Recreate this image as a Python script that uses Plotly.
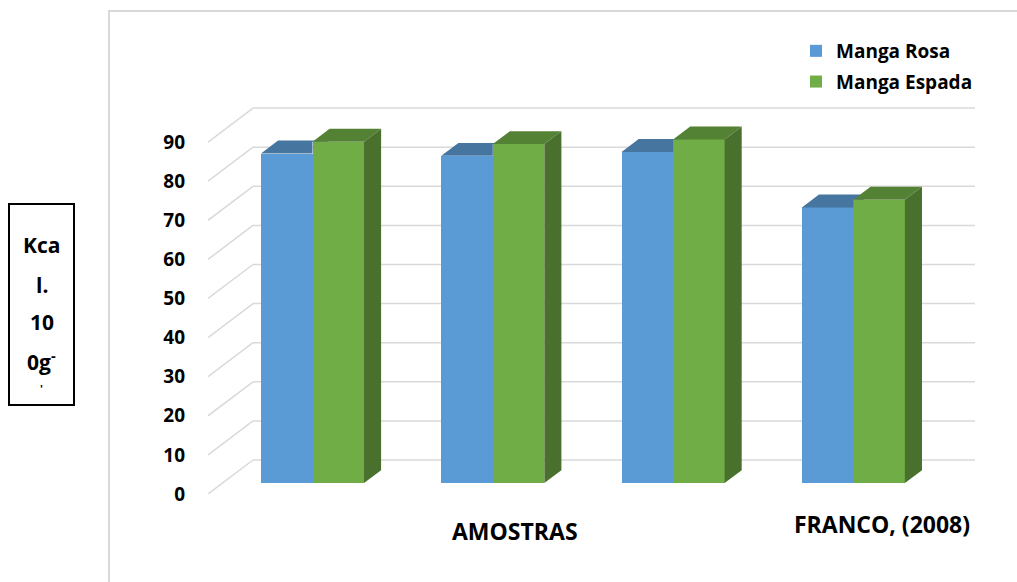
import plotly.graph_objects as go

# ---------------- data ----------------
SERIES_NAMES = ["Manga Rosa", "Manga Espada"]
MANGA_ROSA = [84.3, 83.7, 84.7, 70.5]
MANGA_ESPADA = [87.3, 86.7, 87.9, 72.5]
CATEGORY_LABELS = ["", "AMOSTRAS", "", "FRANCO, (2008)"]
Y_TICKS = [0, 10, 20, 30, 40, 50, 60, 70, 80, 90]
Y_TITLE_LINES = ["Kca", "l.", "10", "0g<sup>-</sup>", "'"]

# ---------------- layout / style ----------------
W_PX, H_PX = 1017, 582
PLOT_L, PLOT_R, PLOT_T, PLOT_B = 208, 975, 103, 494
Y_RANGE = [0, 100]
GROUP0_PX, GROUP_STEP_PX = 312.5, 180.3
X_RANGE = [(PLOT_L - GROUP0_PX) / GROUP_STEP_PX, (PLOT_R - GROUP0_PX) / GROUP_STEP_PX]
PX_PER_Y = (PLOT_B - PLOT_T) / (Y_RANGE[1] - Y_RANGE[0])

DEPTH_DX = 45 / GROUP_STEP_PX      # full depth, x axis units
DEPTH_DY = 34 / PX_PER_Y           # full depth, y axis units
BAR_D0, BAR_D1 = 0.32, 0.70        # bar front/back depth fraction
BAR_W = 51.5 / GROUP_STEP_PX
BAR_BASE = BAR_D0 * DEPTH_DY
TOP_DX = (BAR_D1 - BAR_D0) * DEPTH_DX
TOP_DY = (BAR_D1 - BAR_D0) * DEPTH_DY

FONT = "Open Sans, Lato, Arial, sans-serif"
GRID_COLOR = "#d9d9d9"
BLUE, BLUE_TOP = "#5b9bd5", "#4675a0"
GREEN, GREEN_TOP, GREEN_SIDE = "#70ad47", "#548235", "#4a702e"


def pxx(px):
    return (px - PLOT_L) / (PLOT_R - PLOT_L)


def pxy(py):
    return (PLOT_B - py) / (PLOT_B - PLOT_T)


fig = go.Figure()
xs = list(range(len(MANGA_ROSA)))

# front faces (real bars)
fig.add_trace(go.Bar(x=xs, y=MANGA_ROSA, base=BAR_BASE, width=BAR_W, offset=-BAR_W,
                     marker=dict(color=BLUE, line=dict(width=0)), name=SERIES_NAMES[0],
                     legendgroup="g1"))
fig.add_trace(go.Bar(x=xs, y=MANGA_ESPADA, base=BAR_BASE, width=BAR_W, offset=0,
                     marker=dict(color=GREEN, line=dict(width=0)), name=SERIES_NAMES[1],
                     legendgroup="g2"))


def poly(px_list, py_list, color):
    fig.add_trace(go.Scatter(x=px_list + [px_list[0]], y=py_list + [py_list[0]],
                             mode="lines", fill="toself", fillcolor=color,
                             line=dict(width=0, color=color), showlegend=False,
                             hoverinfo="skip"))


for i, (vb, vg) in enumerate(zip(MANGA_ROSA, MANGA_ESPADA)):
    x0, x1, x2 = i - BAR_W, i, i + BAR_W
    hb, hg = vb + BAR_BASE, vg + BAR_BASE
    # blue top face, clipped where hidden behind the green front face
    hc = min(max(hg, hb), hb + TOP_DY)
    poly([x0, x1, x1, x1 + TOP_DX * (hc - hb) / TOP_DY, x1 + TOP_DX, x0 + TOP_DX],
         [hb, hb, hc, hc, hb + TOP_DY, hb + TOP_DY], BLUE_TOP)
    # green top face
    poly([x1, x2, x2 + TOP_DX, x1 + TOP_DX],
         [hg, hg, hg + TOP_DY, hg + TOP_DY], GREEN_TOP)
    # green side face
    poly([x2, x2 + TOP_DX, x2 + TOP_DX, x2],
         [BAR_BASE, BAR_BASE + TOP_DY, hg + TOP_DY, hg], GREEN_SIDE)

# walls: gridlines on side wall and back wall
shapes = []
for v in Y_TICKS:
    shapes.append(dict(type="line", xref="x", yref="y", layer="below",
                       x0=X_RANGE[0], y0=v, x1=X_RANGE[0] + DEPTH_DX, y1=v + DEPTH_DY,
                       line=dict(color=GRID_COLOR, width=1.5)))
    shapes.append(dict(type="line", xref="x", yref="y", layer="below",
                       x0=X_RANGE[0] + DEPTH_DX, y0=v + DEPTH_DY, x1=X_RANGE[1], y1=v + DEPTH_DY,
                       line=dict(color=GRID_COLOR, width=1.5)))
# chart area border
shapes.append(dict(type="rect", xref="paper", yref="paper",
                   x0=pxx(109), x1=pxx(1040), y0=pxy(600), y1=pxy(11),
                   line=dict(color=GRID_COLOR, width=2)))
# y title box
shapes.append(dict(type="rect", xref="paper", yref="paper",
                   x0=pxx(9), x1=pxx(74), y0=pxy(405), y1=pxy(204),
                   line=dict(color="black", width=2)))

annotations = []
title_y = [245, 285, 322, 360, 388]
title_size = [21, 21, 21, 21, 11]
for txt, py, sz in zip(Y_TITLE_LINES, title_y, title_size):
    annotations.append(dict(text=txt, xref="paper", yref="paper", x=pxx(41.5), y=pxy(py),
                            showarrow=False, xanchor="center", yanchor="middle",
                            font=dict(family=FONT, size=sz, color="black", weight="bold")))

label_pos = {1: (22.5, 531), 3: (29, 524)}
for i, lab in enumerate(CATEGORY_LABELS):
    if not lab:
        continue
    dxp, py = label_pos[i]
    annotations.append(dict(text=lab, xref="x", yref="paper", x=i, xshift=dxp, y=pxy(py),
                            showarrow=False, xanchor="center", yanchor="middle",
                            font=dict(family=FONT, size=23, color="black", weight="bold")))

fig.update_layout(
    width=W_PX, height=H_PX, autosize=False,
    margin=dict(l=PLOT_L, r=W_PX - PLOT_R, t=PLOT_T, b=H_PX - PLOT_B, pad=0),
    paper_bgcolor="white", plot_bgcolor="white",
    barmode="overlay", bargap=0, hovermode=False,
    font=dict(family=FONT, color="black"),
    xaxis=dict(range=X_RANGE, showgrid=False, zeroline=False, showline=False,
               showticklabels=False, ticks="", fixedrange=True),
    yaxis=dict(range=Y_RANGE, showgrid=False, zeroline=False, showline=False,
               tickvals=Y_TICKS, ticktext=[str(v) for v in Y_TICKS], ticks="",
               ticklabelstandoff=22,
               tickfont=dict(family=FONT, size=19, color="black", weight="bold"),
               fixedrange=True),
    legend=dict(x=pxx(796), y=pxy(32), xanchor="left", yanchor="top",
                bgcolor="rgba(0,0,0,0)", borderwidth=0, traceorder="grouped",
                tracegroupgap=3,
                font=dict(family=FONT, size=19, color="black", weight="bold")),
    shapes=shapes, annotations=annotations,
)

fig.write_html("out.html")
